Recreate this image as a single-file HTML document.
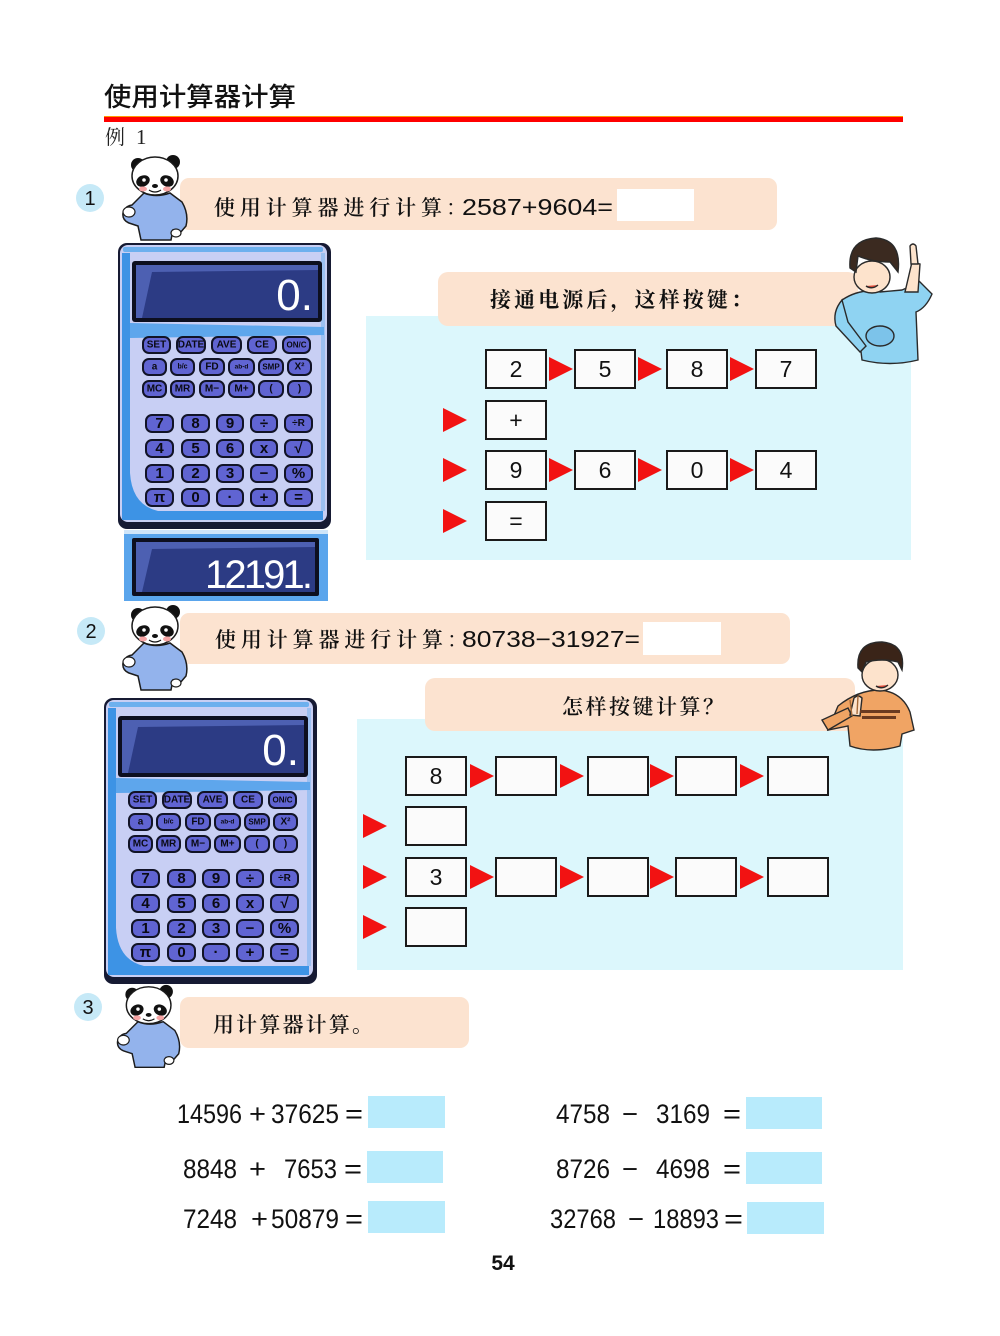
<!DOCTYPE html>
<html><head><meta charset="utf-8"><style>
html,body{margin:0;padding:0;background:#fff;}
svg{display:block;}
.cjk{font-family:"Noto Serif CJK SC","WenQuanYi Zen Hei",serif;}
.sans{font-family:"Liberation Sans","Noto Sans CJK SC",sans-serif;}
.k{fill:#6064d2;stroke:#111326;stroke-width:2;}
.kl{font-family:"Liberation Sans",sans-serif;font-weight:bold;fill:#0a0a14;text-anchor:middle;dominant-baseline:central;}
.f{font-size:10px;}
.n{font-size:15px;}
.bx{fill:#fbfbfb;stroke:#1a1a1a;stroke-width:2;}
.bt{font-family:"Liberation Sans",sans-serif;font-size:23px;fill:#111;text-anchor:middle;dominant-baseline:central;}
.ar{fill:#f21212;}
.eq{font-family:"Liberation Sans Narrow","Liberation Sans",sans-serif;font-size:27px;fill:#111;}
.ab{fill:#b8ebfc;}
</style></head><body>
<svg width="1000" height="1336" viewBox="0 0 1000 1336" xmlns="http://www.w3.org/2000/svg">
<rect width="1000" height="1336" fill="#fff"/>

<!-- Title -->
<text x="104" y="106" font-family="'Noto Sans CJK SC',sans-serif" font-weight="500" font-size="26" fill="#111" textLength="192" lengthAdjust="spacingAndGlyphs">使用计算器计算</text>
<rect x="104" y="116" width="799" height="2" fill="#ff9a00"/>
<rect x="104" y="117" width="799" height="5" fill="#ff0000"/>
<text x="105" y="144" font-family="'Liberation Serif','Noto Serif CJK SC',serif" font-size="20" fill="#222">例</text>
<text x="136" y="144" font-family="'Liberation Serif',serif" font-size="21" fill="#222">1</text>

<!-- ===== Section 1 ===== -->
<circle cx="90" cy="198" r="14" fill="#c6e9f7"/>
<text x="90" y="199" class="sans" font-size="20" fill="#111" text-anchor="middle" dominant-baseline="central">1</text>
<rect x="180" y="178" width="597" height="52" rx="9" fill="#fce3d0"/>
<rect x="617" y="189" width="77" height="32" fill="#fff"/>
<text x="214" y="207" class="cjk" font-weight="600" font-size="21" fill="#111" dominant-baseline="central" textLength="228" lengthAdjust="spacing">使用计算器进行计算</text>
<text x="446" y="207" class="cjk" font-size="21" fill="#111" dominant-baseline="central">：</text>
<text x="462" y="215" class="sans" font-size="23" fill="#111" textLength="151" lengthAdjust="spacingAndGlyphs">2587+9604=</text>

<!-- panda 1 -->
<g transform="translate(110,150)">
<circle cx="28" cy="15" r="7" fill="#111"/><circle cx="63" cy="12" r="7" fill="#111"/>
<path d="M34 43 Q46 48 60 43 L72 52 Q79 64 76 76 L70 83 L63 80 L61 90 L31 90 L28 76 L19 73 Q12 70 13 63 Q15 56 22 55 L27 50 Z" fill="#93b3ec" stroke="#1c1c1c" stroke-width="1.5"/>
<ellipse cx="19" cy="62" rx="6" ry="5" fill="#fff" stroke="#1c1c1c" stroke-width="1.2"/>
<ellipse cx="66" cy="83" rx="5" ry="4" fill="#fff" stroke="#1c1c1c" stroke-width="1.2"/>
<ellipse cx="45" cy="26" rx="23" ry="19" fill="#fff" stroke="#1c1c1c" stroke-width="1.5"/>
<ellipse cx="33" cy="31" rx="7" ry="5.5" fill="#111" transform="rotate(-25 33 31)"/>
<ellipse cx="57" cy="31" rx="7" ry="5.5" fill="#111" transform="rotate(25 57 31)"/>
<circle cx="34" cy="30" r="1.8" fill="#fff"/><circle cx="56" cy="30" r="1.8" fill="#fff"/>
<ellipse cx="45" cy="36" rx="3" ry="2" fill="#111"/>
<path d="M39 40 Q45 44 51 40" stroke="#111" fill="none" stroke-width="1.2"/>
<ellipse cx="33" cy="39" rx="4" ry="2.5" fill="#f7a5a5"/><ellipse cx="57" cy="39" rx="4" ry="2.5" fill="#f7a5a5"/>
</g>

<!-- calculator 1 -->
<g transform="translate(118,243)">
<rect x="0" y="0" width="213" height="286" rx="9" fill="#161a33"/>
<rect x="2" y="2" width="207" height="277" rx="8" fill="#c8cff4"/>
<rect x="5" y="4" width="200" height="5" rx="2" fill="#6db0ee"/>
<path d="M4 10 L12 10 L12 268 L205 268 L205 277 L4 277 Z" fill="#3d93e5"/>
<path d="M12 230 Q14 262 40 268 L12 268 Z" fill="#3d93e5"/>
<rect x="203" y="10" width="4" height="258" fill="#9cc0f2"/>
<polygon points="12,80 206,84 206,92 12,95" fill="#5ea6ec"/>
<rect x="14" y="18" width="190" height="61" rx="3" fill="#0d0f1f"/>
<rect x="18" y="22" width="182" height="53" fill="#2c3b84"/>
<polygon points="18,22 200,22 200,27 34,29 24,75 18,75" fill="#4d60b2"/>
<text x="195" y="67" text-anchor="end" font-family="Liberation Sans,sans-serif" font-size="44" fill="#fff">0.</text>
<rect class="k" x="25" y="94" width="27" height="16" rx="6"/><text class="kl f" x="38.5" y="102">SET</text>
<rect class="k" x="59" y="94" width="28" height="16" rx="6"/><text class="kl f" x="73" y="102" font-size="8.5">DATE</text>
<rect class="k" x="94" y="94" width="29" height="16" rx="6"/><text class="kl f" x="108.5" y="102">AVE</text>
<rect class="k" x="130" y="94" width="28" height="16" rx="6"/><text class="kl f" x="144" y="102">CE</text>
<rect class="k" x="165" y="94" width="27" height="16" rx="6"/><text class="kl" x="178.5" y="102" font-size="8">ON/C</text>
<rect class="k" x="25" y="116" width="23" height="16" rx="6"/><text class="kl f" x="36.5" y="124">a</text>
<rect class="k" x="53" y="116" width="23" height="16" rx="6"/><text class="kl" x="64.5" y="124" font-size="7">b/c</text>
<rect class="k" x="82" y="116" width="24" height="16" rx="6"/><text class="kl f" x="94" y="124">FD</text>
<rect class="k" x="111" y="116" width="25" height="16" rx="6"/><text class="kl" x="123.5" y="124" font-size="6.5">ab-d</text>
<rect class="k" x="141" y="116" width="24" height="16" rx="6"/><text class="kl" x="153" y="124" font-size="8">SMP</text>
<rect class="k" x="170" y="116" width="23" height="16" rx="6"/><text class="kl f" x="181.5" y="124">X²</text>
<rect class="k" x="25" y="138" width="23" height="16" rx="6"/><text class="kl f" x="36.5" y="146" font-size="9">MC</text>
<rect class="k" x="53" y="138" width="23" height="16" rx="6"/><text class="kl f" x="64.5" y="146" font-size="9">MR</text>
<rect class="k" x="82" y="138" width="24" height="16" rx="6"/><text class="kl f" x="94" y="146" font-size="9">M−</text>
<rect class="k" x="111" y="138" width="25" height="16" rx="6"/><text class="kl f" x="123.5" y="146" font-size="9">M+</text>
<rect class="k" x="141" y="138" width="24" height="16" rx="6"/><text class="kl f" x="153" y="146">(</text>
<rect class="k" x="170" y="138" width="23" height="16" rx="6"/><text class="kl f" x="181.5" y="146">)</text>
<rect class="k" x="28" y="172" width="27" height="17" rx="6"/><text class="kl n" x="41.5" y="180.5">7</text>
<rect class="k" x="64" y="172" width="27" height="17" rx="6"/><text class="kl n" x="77.5" y="180.5">8</text>
<rect class="k" x="99" y="172" width="26" height="17" rx="6"/><text class="kl n" x="112" y="180.5">9</text>
<rect class="k" x="133" y="172" width="26" height="17" rx="6"/><text class="kl n" x="146" y="180.5">÷</text>
<rect class="k" x="167" y="172" width="27" height="17" rx="6"/><text class="kl f" x="180.5" y="180.5" font-size="11">÷R</text>
<rect class="k" x="28" y="197" width="27" height="17" rx="6"/><text class="kl n" x="41.5" y="205.5">4</text>
<rect class="k" x="64" y="197" width="27" height="17" rx="6"/><text class="kl n" x="77.5" y="205.5">5</text>
<rect class="k" x="99" y="197" width="26" height="17" rx="6"/><text class="kl n" x="112" y="205.5">6</text>
<rect class="k" x="133" y="197" width="26" height="17" rx="6"/><text class="kl n" x="146" y="205.5">x</text>
<rect class="k" x="167" y="197" width="27" height="17" rx="6"/><text class="kl n" x="180.5" y="205.5">√</text>
<rect class="k" x="28" y="222" width="27" height="17" rx="6"/><text class="kl n" x="41.5" y="230.5">1</text>
<rect class="k" x="64" y="222" width="27" height="17" rx="6"/><text class="kl n" x="77.5" y="230.5">2</text>
<rect class="k" x="99" y="222" width="26" height="17" rx="6"/><text class="kl n" x="112" y="230.5">3</text>
<rect class="k" x="133" y="222" width="26" height="17" rx="6"/><text class="kl n" x="146" y="230.5">−</text>
<rect class="k" x="167" y="222" width="27" height="17" rx="6"/><text class="kl n" x="180.5" y="230.5">%</text>
<rect class="k" x="28" y="246" width="27" height="17" rx="6"/><text class="kl n" x="41.5" y="254.5">π</text>
<rect class="k" x="64" y="246" width="27" height="17" rx="6"/><text class="kl n" x="77.5" y="254.5">0</text>
<rect class="k" x="99" y="246" width="26" height="17" rx="6"/><text class="kl n" x="112" y="254.5">·</text>
<rect class="k" x="133" y="246" width="26" height="17" rx="6"/><text class="kl n" x="146" y="254.5">+</text>
<rect class="k" x="167" y="246" width="27" height="17" rx="6"/><text class="kl n" x="180.5" y="254.5">=</text>
</g>

<!-- result display -->
<rect x="124" y="530" width="204" height="71" fill="#5aa5ec"/>
<rect x="124" y="530" width="204" height="4" fill="#cfe5f9"/>
<rect x="132" y="538" width="187" height="58" rx="2" fill="#0d0f1f"/>
<rect x="136" y="542" width="179" height="50" fill="#2c3b84"/>
<polygon points="136,542 315,542 315,547 152,549 142,592 136,592" fill="#4d60b2"/>
<text x="205" y="588" font-family="Liberation Sans,sans-serif" font-size="40" fill="#fff" textLength="108" lengthAdjust="spacing">12191.</text>

<!-- right panel 1 -->
<rect x="366" y="316" width="545" height="244" fill="#dcf7fc"/>
<rect x="438" y="272" width="420" height="54" rx="10" fill="#fce3d0"/>
<text x="490" y="299" class="cjk" font-weight="bold" font-size="21" fill="#111" dominant-baseline="central" textLength="262" lengthAdjust="spacing">接通电源后，这样按键：</text>

<!-- boy 1 -->
<g stroke="#2a2a2a" stroke-width="1.4">
<path d="M842 300 Q860 288 880 292 L902 290 Q912 286 918 280 L932 294 Q926 308 916 312 L918 360 Q890 367 862 360 L860 343 Q850 332 842 318 Z" fill="#8fd3f2"/>
<path d="M842 300 Q832 312 836 326 L860 352 L866 346 L848 322 Z" fill="#8fd3f2"/>
<path d="M905 292 L912 262 L920 264 L918 292 Z" fill="#fde3cc"/>
<path d="M911 264 L910 246 Q913 242 916 246 L918 264 Z" fill="#fde3cc"/>
<ellipse cx="880" cy="336" rx="14" ry="10" fill="#7cc3ea"/>
<ellipse cx="872" cy="277" rx="18" ry="16" fill="#fde3cc"/>
<path d="M850 268 Q848 240 876 238 Q902 240 898 272 L890 262 Q872 262 858 256 L856 272 Z" fill="#3b2a20"/>
<path d="M866 286 Q872 290 878 285" fill="#e24b3b"/>
</g>

<!-- section 1 boxes -->
<rect class="bx" x="486" y="350" width="60" height="38"/><text class="bt" x="516" y="369">2</text>
<rect class="bx" x="575" y="350" width="60" height="38"/><text class="bt" x="605" y="369">5</text>
<rect class="bx" x="667" y="350" width="60" height="38"/><text class="bt" x="697" y="369">8</text>
<rect class="bx" x="756" y="350" width="60" height="38"/><text class="bt" x="786" y="369">7</text>
<polygon class="ar" points="549,357 573,369 549,381"/>
<polygon class="ar" points="638,357 662,369 638,381"/>
<polygon class="ar" points="730,357 754,369 730,381"/>
<rect class="bx" x="486" y="401" width="60" height="38"/><text class="bt" x="516" y="420">+</text>
<rect class="bx" x="486" y="451" width="60" height="38"/><text class="bt" x="516" y="470">9</text>
<rect class="bx" x="575" y="451" width="60" height="38"/><text class="bt" x="605" y="470">6</text>
<rect class="bx" x="667" y="451" width="60" height="38"/><text class="bt" x="697" y="470">0</text>
<rect class="bx" x="756" y="451" width="60" height="38"/><text class="bt" x="786" y="470">4</text>
<polygon class="ar" points="549,458 573,470 549,482"/>
<polygon class="ar" points="638,458 662,470 638,482"/>
<polygon class="ar" points="730,458 754,470 730,482"/>
<rect class="bx" x="486" y="502" width="60" height="38"/><text class="bt" x="516" y="521">=</text>
<polygon class="ar" points="443,408 467,420 443,432"/>
<polygon class="ar" points="443,458 467,470 443,482"/>
<polygon class="ar" points="443,509 467,521 443,533"/>

<!-- ===== Section 2 ===== -->
<circle cx="91" cy="631" r="14" fill="#c6e9f7"/>
<text x="91" y="632" class="sans" font-size="20" fill="#111" text-anchor="middle" dominant-baseline="central">2</text>
<rect x="180" y="613" width="610" height="51" rx="9" fill="#fce3d0"/>
<rect x="643" y="622" width="78" height="33" fill="#fff"/>
<text x="215" y="639" class="cjk" font-weight="600" font-size="21" fill="#111" dominant-baseline="central" textLength="228" lengthAdjust="spacing">使用计算器进行计算</text>
<text x="447" y="639" class="cjk" font-size="21" fill="#111" dominant-baseline="central">：</text>
<text x="462" y="647" class="sans" font-size="23" fill="#111" textLength="178" lengthAdjust="spacingAndGlyphs">80738−31927=</text>

<!-- panda 2 -->
<g transform="translate(110,600)">
<circle cx="28" cy="15" r="7" fill="#111"/><circle cx="63" cy="12" r="7" fill="#111"/>
<path d="M34 43 Q46 48 60 43 L72 52 Q79 64 76 76 L70 83 L63 80 L61 90 L31 90 L28 76 L19 73 Q12 70 13 63 Q15 56 22 55 L27 50 Z" fill="#93b3ec" stroke="#1c1c1c" stroke-width="1.5"/>
<ellipse cx="19" cy="62" rx="6" ry="5" fill="#fff" stroke="#1c1c1c" stroke-width="1.2"/>
<ellipse cx="66" cy="83" rx="5" ry="4" fill="#fff" stroke="#1c1c1c" stroke-width="1.2"/>
<ellipse cx="45" cy="26" rx="23" ry="19" fill="#fff" stroke="#1c1c1c" stroke-width="1.5"/>
<ellipse cx="33" cy="31" rx="7" ry="5.5" fill="#111" transform="rotate(-25 33 31)"/>
<ellipse cx="57" cy="31" rx="7" ry="5.5" fill="#111" transform="rotate(25 57 31)"/>
<circle cx="34" cy="30" r="1.8" fill="#fff"/><circle cx="56" cy="30" r="1.8" fill="#fff"/>
<ellipse cx="45" cy="36" rx="3" ry="2" fill="#111"/>
<path d="M39 40 Q45 44 51 40" stroke="#111" fill="none" stroke-width="1.2"/>
<ellipse cx="33" cy="39" rx="4" ry="2.5" fill="#f7a5a5"/><ellipse cx="57" cy="39" rx="4" ry="2.5" fill="#f7a5a5"/>
</g>

<!-- calculator 2 -->
<g transform="translate(104,698)">
<rect x="0" y="0" width="213" height="286" rx="9" fill="#161a33"/>
<rect x="2" y="2" width="207" height="277" rx="8" fill="#c8cff4"/>
<rect x="5" y="4" width="200" height="5" rx="2" fill="#6db0ee"/>
<path d="M4 10 L12 10 L12 268 L205 268 L205 277 L4 277 Z" fill="#3d93e5"/>
<path d="M12 230 Q14 262 40 268 L12 268 Z" fill="#3d93e5"/>
<rect x="203" y="10" width="4" height="258" fill="#9cc0f2"/>
<polygon points="12,80 206,84 206,92 12,95" fill="#5ea6ec"/>
<rect x="14" y="18" width="190" height="61" rx="3" fill="#0d0f1f"/>
<rect x="18" y="22" width="182" height="53" fill="#2c3b84"/>
<polygon points="18,22 200,22 200,27 34,29 24,75 18,75" fill="#4d60b2"/>
<text x="195" y="67" text-anchor="end" font-family="Liberation Sans,sans-serif" font-size="44" fill="#fff">0.</text>
<rect class="k" x="25" y="94" width="27" height="16" rx="6"/><text class="kl f" x="38.5" y="102">SET</text>
<rect class="k" x="59" y="94" width="28" height="16" rx="6"/><text class="kl f" x="73" y="102" font-size="8.5">DATE</text>
<rect class="k" x="94" y="94" width="29" height="16" rx="6"/><text class="kl f" x="108.5" y="102">AVE</text>
<rect class="k" x="130" y="94" width="28" height="16" rx="6"/><text class="kl f" x="144" y="102">CE</text>
<rect class="k" x="165" y="94" width="27" height="16" rx="6"/><text class="kl" x="178.5" y="102" font-size="8">ON/C</text>
<rect class="k" x="25" y="116" width="23" height="16" rx="6"/><text class="kl f" x="36.5" y="124">a</text>
<rect class="k" x="53" y="116" width="23" height="16" rx="6"/><text class="kl" x="64.5" y="124" font-size="7">b/c</text>
<rect class="k" x="82" y="116" width="24" height="16" rx="6"/><text class="kl f" x="94" y="124">FD</text>
<rect class="k" x="111" y="116" width="25" height="16" rx="6"/><text class="kl" x="123.5" y="124" font-size="6.5">ab-d</text>
<rect class="k" x="141" y="116" width="24" height="16" rx="6"/><text class="kl" x="153" y="124" font-size="8">SMP</text>
<rect class="k" x="170" y="116" width="23" height="16" rx="6"/><text class="kl f" x="181.5" y="124">X²</text>
<rect class="k" x="25" y="138" width="23" height="16" rx="6"/><text class="kl f" x="36.5" y="146" font-size="9">MC</text>
<rect class="k" x="53" y="138" width="23" height="16" rx="6"/><text class="kl f" x="64.5" y="146" font-size="9">MR</text>
<rect class="k" x="82" y="138" width="24" height="16" rx="6"/><text class="kl f" x="94" y="146" font-size="9">M−</text>
<rect class="k" x="111" y="138" width="25" height="16" rx="6"/><text class="kl f" x="123.5" y="146" font-size="9">M+</text>
<rect class="k" x="141" y="138" width="24" height="16" rx="6"/><text class="kl f" x="153" y="146">(</text>
<rect class="k" x="170" y="138" width="23" height="16" rx="6"/><text class="kl f" x="181.5" y="146">)</text>
<rect class="k" x="28" y="172" width="27" height="17" rx="6"/><text class="kl n" x="41.5" y="180.5">7</text>
<rect class="k" x="64" y="172" width="27" height="17" rx="6"/><text class="kl n" x="77.5" y="180.5">8</text>
<rect class="k" x="99" y="172" width="26" height="17" rx="6"/><text class="kl n" x="112" y="180.5">9</text>
<rect class="k" x="133" y="172" width="26" height="17" rx="6"/><text class="kl n" x="146" y="180.5">÷</text>
<rect class="k" x="167" y="172" width="27" height="17" rx="6"/><text class="kl f" x="180.5" y="180.5" font-size="11">÷R</text>
<rect class="k" x="28" y="197" width="27" height="17" rx="6"/><text class="kl n" x="41.5" y="205.5">4</text>
<rect class="k" x="64" y="197" width="27" height="17" rx="6"/><text class="kl n" x="77.5" y="205.5">5</text>
<rect class="k" x="99" y="197" width="26" height="17" rx="6"/><text class="kl n" x="112" y="205.5">6</text>
<rect class="k" x="133" y="197" width="26" height="17" rx="6"/><text class="kl n" x="146" y="205.5">x</text>
<rect class="k" x="167" y="197" width="27" height="17" rx="6"/><text class="kl n" x="180.5" y="205.5">√</text>
<rect class="k" x="28" y="222" width="27" height="17" rx="6"/><text class="kl n" x="41.5" y="230.5">1</text>
<rect class="k" x="64" y="222" width="27" height="17" rx="6"/><text class="kl n" x="77.5" y="230.5">2</text>
<rect class="k" x="99" y="222" width="26" height="17" rx="6"/><text class="kl n" x="112" y="230.5">3</text>
<rect class="k" x="133" y="222" width="26" height="17" rx="6"/><text class="kl n" x="146" y="230.5">−</text>
<rect class="k" x="167" y="222" width="27" height="17" rx="6"/><text class="kl n" x="180.5" y="230.5">%</text>
<rect class="k" x="28" y="246" width="27" height="17" rx="6"/><text class="kl n" x="41.5" y="254.5">π</text>
<rect class="k" x="64" y="246" width="27" height="17" rx="6"/><text class="kl n" x="77.5" y="254.5">0</text>
<rect class="k" x="99" y="246" width="26" height="17" rx="6"/><text class="kl n" x="112" y="254.5">·</text>
<rect class="k" x="133" y="246" width="26" height="17" rx="6"/><text class="kl n" x="146" y="254.5">+</text>
<rect class="k" x="167" y="246" width="27" height="17" rx="6"/><text class="kl n" x="180.5" y="254.5">=</text>
</g>

<!-- right panel 2 -->
<rect x="357" y="719" width="546" height="251" fill="#dcf7fc"/>
<rect x="425" y="678" width="430" height="53" rx="10" fill="#fce3d0"/>
<text x="562" y="706" class="cjk" font-weight="600" font-size="21" fill="#111" dominant-baseline="central" textLength="162" lengthAdjust="spacing">怎样按键计算？</text>

<!-- boy 2 -->
<g stroke="#2a2a2a" stroke-width="1.4">
<path d="M838 706 Q858 690 880 690 Q902 692 910 712 L914 730 L902 734 L900 746 Q872 754 850 746 L848 726 L828 730 Z" fill="#f0a464"/>
<path d="M828 730 L822 720 L848 708 L852 716 Z" fill="#f0a464"/>
<path d="M850 715 L854 698 Q858 694 862 698 L860 716 Z" fill="#fde3cc"/>
<path d="M852 716 L850 700 M857 714 L858 696" stroke="#a56a3a"/>
<rect x="860" y="710" width="40" height="3" fill="#6b3a20" stroke="none"/>
<rect x="862" y="716" width="34" height="3" fill="#6b3a20" stroke="none"/>
<ellipse cx="880" cy="675" rx="18" ry="16" fill="#fde3cc"/>
<path d="M858 668 Q856 642 882 642 Q906 644 902 670 L898 662 Q882 658 866 662 L862 672 Z" fill="#3a2418"/>
<path d="M876 686 Q882 690 888 685" fill="#e24b3b"/>
</g>

<!-- section 2 boxes -->
<rect class="bx" x="406" y="757" width="60" height="38"/><text class="bt" x="436" y="776">8</text>
<rect class="bx" x="496" y="757" width="60" height="38"/>
<rect class="bx" x="588" y="757" width="60" height="38"/>
<rect class="bx" x="676" y="757" width="60" height="38"/>
<rect class="bx" x="768" y="757" width="60" height="38"/>
<polygon class="ar" points="470,764 494,776 470,788"/>
<polygon class="ar" points="560,764 584,776 560,788"/>
<polygon class="ar" points="650,764 674,776 650,788"/>
<polygon class="ar" points="740,764 764,776 740,788"/>
<rect class="bx" x="406" y="807" width="60" height="38"/>
<rect class="bx" x="406" y="858" width="60" height="38"/><text class="bt" x="436" y="877">3</text>
<rect class="bx" x="496" y="858" width="60" height="38"/>
<rect class="bx" x="588" y="858" width="60" height="38"/>
<rect class="bx" x="676" y="858" width="60" height="38"/>
<rect class="bx" x="768" y="858" width="60" height="38"/>
<polygon class="ar" points="470,865 494,877 470,889"/>
<polygon class="ar" points="560,865 584,877 560,889"/>
<polygon class="ar" points="650,865 674,877 650,889"/>
<polygon class="ar" points="740,865 764,877 740,889"/>
<rect class="bx" x="406" y="908" width="60" height="38"/>
<polygon class="ar" points="363,814 387,826 363,838"/>
<polygon class="ar" points="363,865 387,877 363,889"/>
<polygon class="ar" points="363,915 387,927 363,939"/>

<!-- ===== Section 3 ===== -->
<circle cx="88" cy="1007" r="14" fill="#c6e9f7"/>
<text x="88" y="1008" class="sans" font-size="20" fill="#111" text-anchor="middle" dominant-baseline="central">3</text>
<rect x="180" y="997" width="289" height="51" rx="9" fill="#fce3d0"/>
<text x="213" y="1024" class="cjk" font-weight="600" font-size="21" fill="#111" dominant-baseline="central" textLength="160" lengthAdjust="spacing">用计算器计算。</text>

<!-- panda 3 -->
<g transform="translate(105,980) scale(0.97)">
<circle cx="28" cy="15" r="7" fill="#111"/><circle cx="63" cy="12" r="7" fill="#111"/>
<path d="M34 43 Q46 48 60 43 L72 52 Q79 64 76 76 L70 83 L63 80 L61 90 L31 90 L28 76 L19 73 Q12 70 13 63 Q15 56 22 55 L27 50 Z" fill="#93b3ec" stroke="#1c1c1c" stroke-width="1.5"/>
<ellipse cx="19" cy="62" rx="6" ry="5" fill="#fff" stroke="#1c1c1c" stroke-width="1.2"/>
<ellipse cx="66" cy="83" rx="5" ry="4" fill="#fff" stroke="#1c1c1c" stroke-width="1.2"/>
<ellipse cx="45" cy="26" rx="23" ry="19" fill="#fff" stroke="#1c1c1c" stroke-width="1.5"/>
<ellipse cx="33" cy="31" rx="7" ry="5.5" fill="#111" transform="rotate(-25 33 31)"/>
<ellipse cx="57" cy="31" rx="7" ry="5.5" fill="#111" transform="rotate(25 57 31)"/>
<circle cx="34" cy="30" r="1.8" fill="#fff"/><circle cx="56" cy="30" r="1.8" fill="#fff"/>
<ellipse cx="45" cy="36" rx="3" ry="2" fill="#111"/>
<path d="M39 40 Q45 44 51 40" stroke="#111" fill="none" stroke-width="1.2"/>
<ellipse cx="33" cy="39" rx="4" ry="2.5" fill="#f7a5a5"/><ellipse cx="57" cy="39" rx="4" ry="2.5" fill="#f7a5a5"/>
</g>

<!-- equations -->
<text class="eq" x="177" y="1123" textLength="65" lengthAdjust="spacingAndGlyphs">14596</text>
<text class="eq" x="249" y="1123" textLength="17" lengthAdjust="spacingAndGlyphs">+</text>
<text class="eq" x="271" y="1123" textLength="68" lengthAdjust="spacingAndGlyphs">37625</text>
<text class="eq" x="345" y="1123" textLength="18" lengthAdjust="spacingAndGlyphs">=</text>
<rect class="ab" x="368" y="1096" width="77" height="32"/>

<text class="eq" x="183" y="1178" textLength="54" lengthAdjust="spacingAndGlyphs">8848</text>
<text class="eq" x="249" y="1178" textLength="17" lengthAdjust="spacingAndGlyphs">+</text>
<text class="eq" x="284" y="1178" textLength="53" lengthAdjust="spacingAndGlyphs">7653</text>
<text class="eq" x="344" y="1178" textLength="18" lengthAdjust="spacingAndGlyphs">=</text>
<rect class="ab" x="367" y="1151" width="76" height="32"/>

<text class="eq" x="183" y="1228" textLength="54" lengthAdjust="spacingAndGlyphs">7248</text>
<text class="eq" x="251" y="1228" textLength="17" lengthAdjust="spacingAndGlyphs">+</text>
<text class="eq" x="271" y="1228" textLength="68" lengthAdjust="spacingAndGlyphs">50879</text>
<text class="eq" x="345" y="1228" textLength="18" lengthAdjust="spacingAndGlyphs">=</text>
<rect class="ab" x="368" y="1201" width="77" height="32"/>

<text class="eq" x="556" y="1123" textLength="54" lengthAdjust="spacingAndGlyphs">4758</text>
<text class="eq" x="622" y="1123" textLength="16" lengthAdjust="spacingAndGlyphs">−</text>
<text class="eq" x="656" y="1123" textLength="54" lengthAdjust="spacingAndGlyphs">3169</text>
<text class="eq" x="723" y="1123" textLength="18" lengthAdjust="spacingAndGlyphs">=</text>
<rect class="ab" x="746" y="1097" width="76" height="32"/>

<text class="eq" x="556" y="1178" textLength="54" lengthAdjust="spacingAndGlyphs">8726</text>
<text class="eq" x="622" y="1178" textLength="16" lengthAdjust="spacingAndGlyphs">−</text>
<text class="eq" x="656" y="1178" textLength="54" lengthAdjust="spacingAndGlyphs">4698</text>
<text class="eq" x="723" y="1178" textLength="18" lengthAdjust="spacingAndGlyphs">=</text>
<rect class="ab" x="746" y="1152" width="76" height="32"/>

<text class="eq" x="550" y="1228" textLength="66" lengthAdjust="spacingAndGlyphs">32768</text>
<text class="eq" x="628" y="1228" textLength="16" lengthAdjust="spacingAndGlyphs">−</text>
<text class="eq" x="653" y="1228" textLength="66" lengthAdjust="spacingAndGlyphs">18893</text>
<text class="eq" x="724" y="1228" textLength="19" lengthAdjust="spacingAndGlyphs">=</text>
<rect class="ab" x="747" y="1202" width="77" height="32"/>

<!-- page number -->
<text x="503" y="1270" text-anchor="middle" font-family="Liberation Sans,sans-serif" font-weight="bold" font-size="21" fill="#111">54</text>
</svg>
</body></html>
